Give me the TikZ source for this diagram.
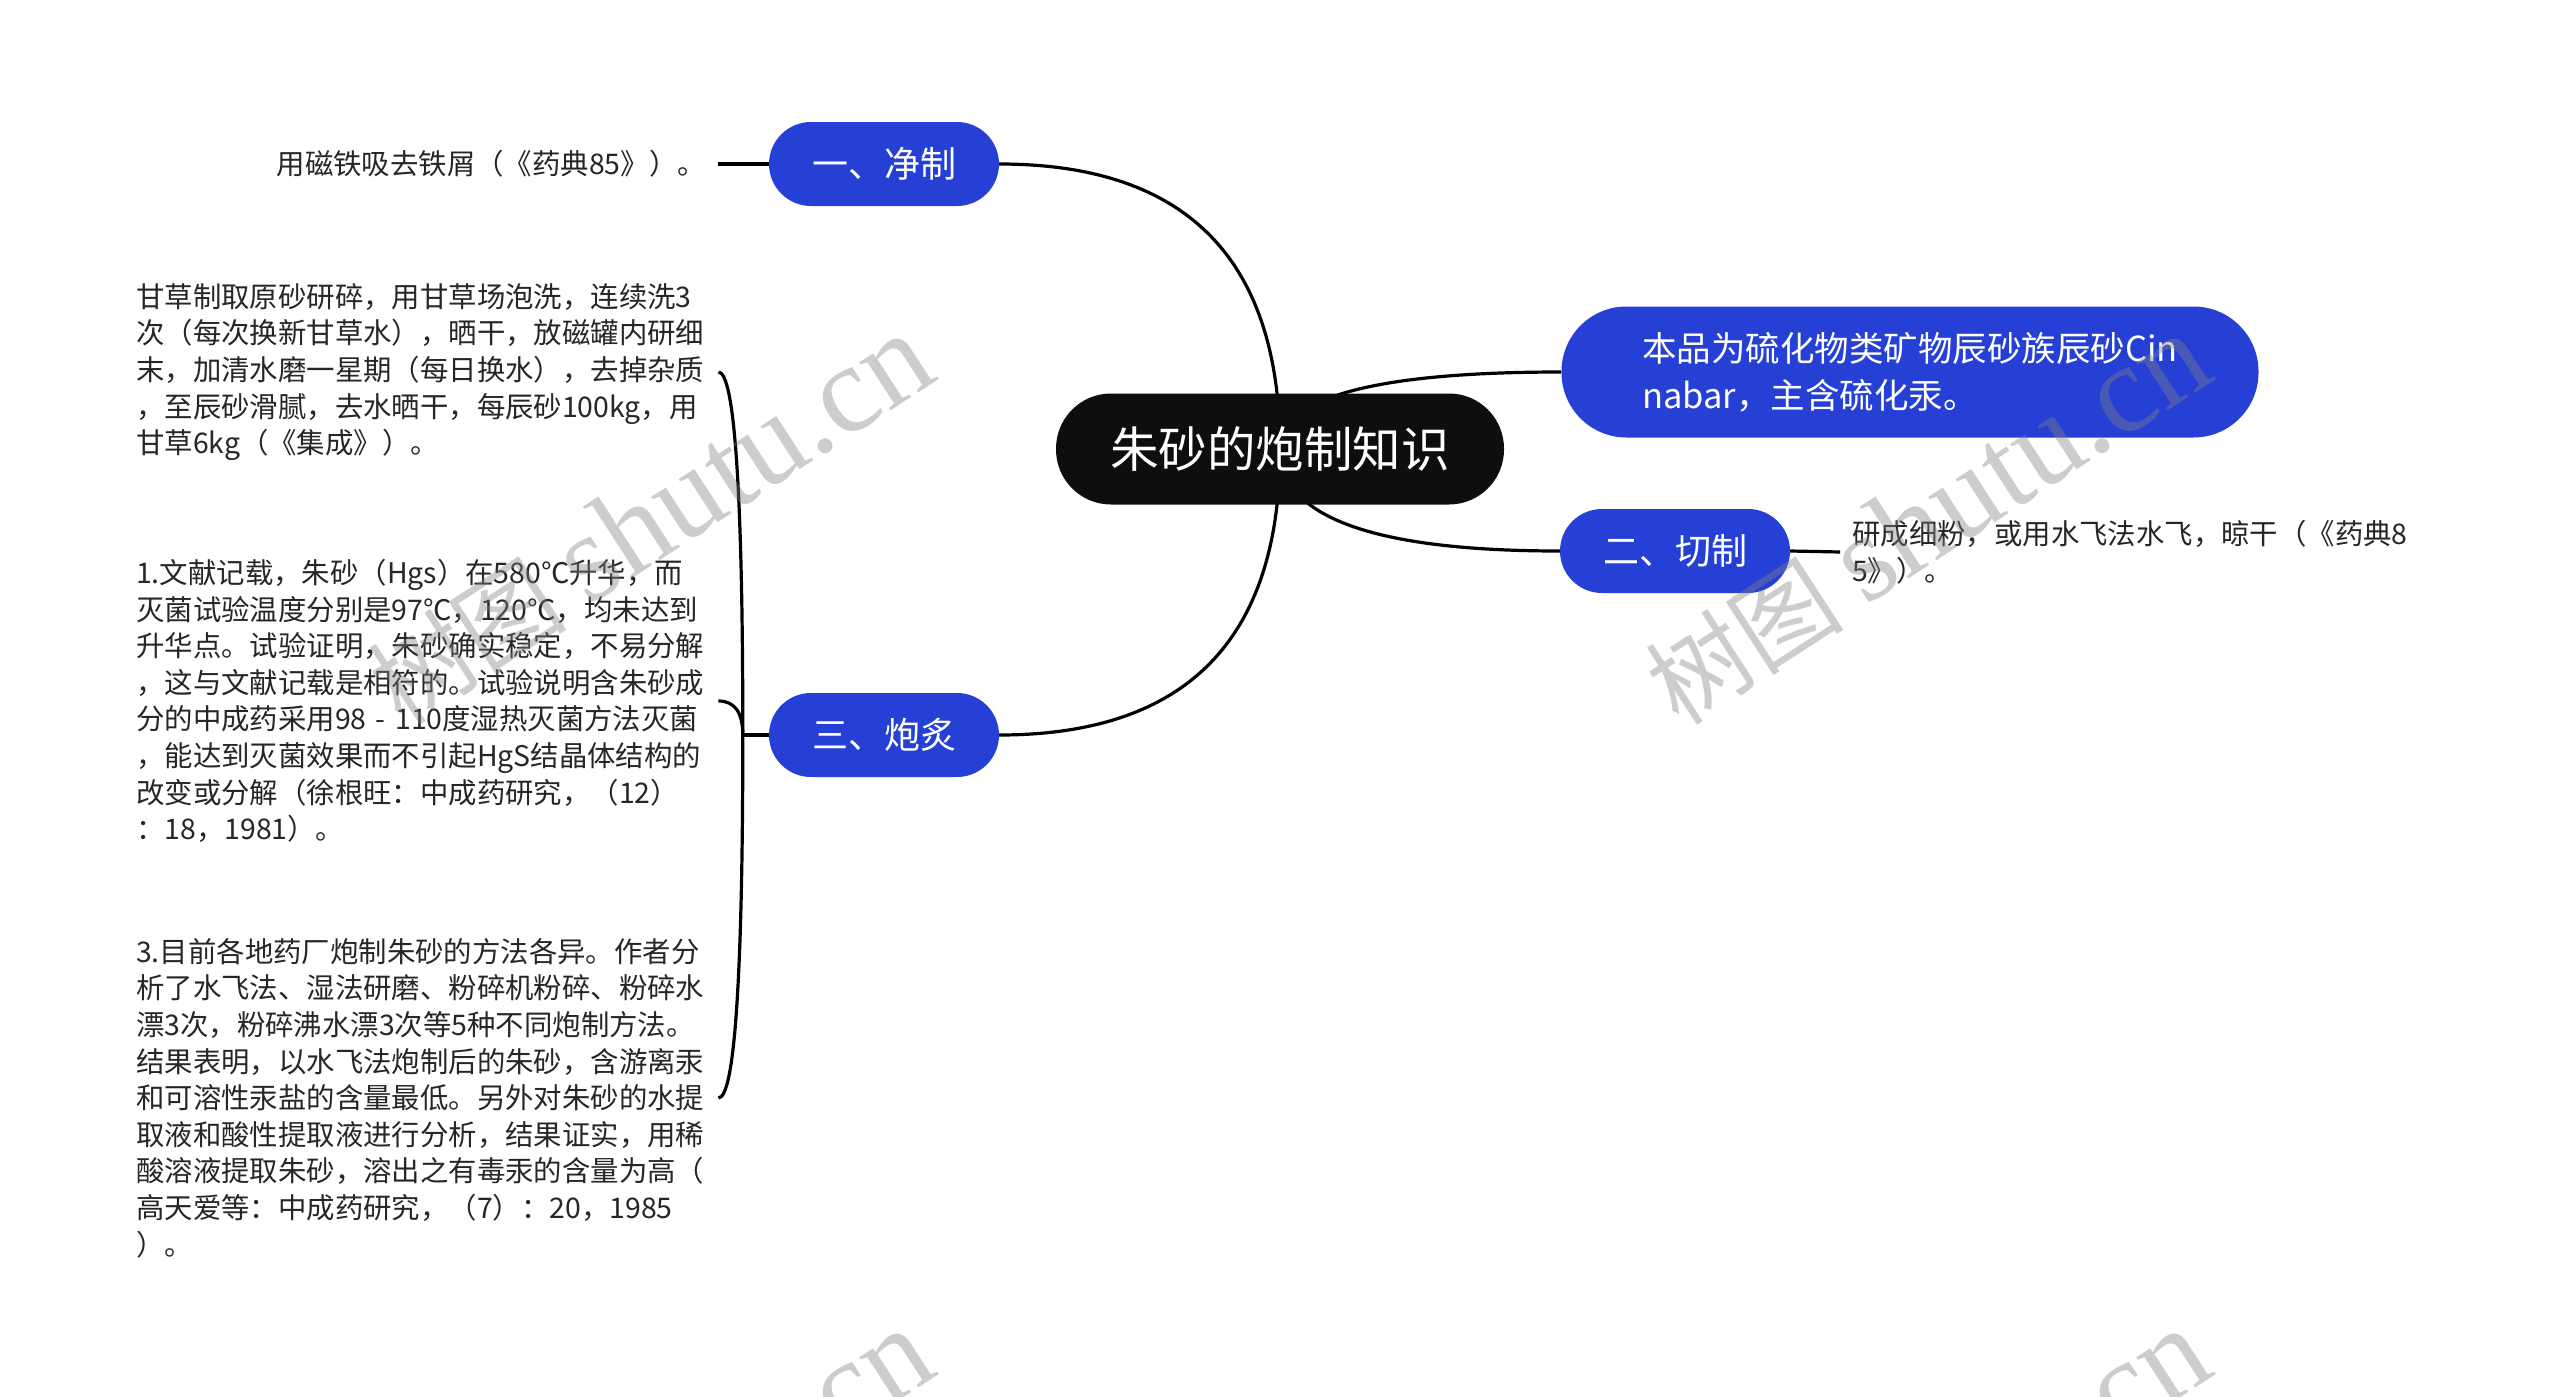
\documentclass[tikz,border=0pt]{standalone}
\usepackage{fontspec}
\setmainfont{Noto Sans CJK SC}
\newfontfamily\wmserif{Liberation Serif}
\usetikzlibrary{calc,backgrounds}
\definecolor{nodeblue}{RGB}{38,64,214}
\definecolor{rootblack}{RGB}{14,14,14}
\definecolor{wmgray}{RGB}{130,130,130}
\setlength\parindent{0pt}
\pgfdeclarelayer{edges}
\pgfsetlayers{background,edges,main}
\begin{document}
\begin{tikzpicture}[x=1pt,y=-1pt,
  rootnode/.style={fill=rootblack,text=white,rounded corners=55pt,minimum width=448pt,minimum height=111pt,inner sep=0pt,font=\fontsize{48.5}{58}\selectfont},
  topic/.style={fill=nodeblue,text=white,rounded corners=42pt,minimum width=230pt,minimum height=84pt,inner sep=0pt,font=\fontsize{36}{44}\selectfont},
  bigtopic/.style={fill=nodeblue,text=white,rounded corners=65pt,minimum width=697pt,minimum height=131pt,inner xsep=65pt,inner ysep=0pt,align=left,font=\fontsize{34.5}{47}\selectfont},
  leaf/.style={inner xsep=12pt,inner ysep=0pt,align=left,text=black!85,font=\fontsize{28.4}{36.6}\selectfont},
  block/.style={leaf,text width=570pt},
  conn/.style={draw=black,line width=3.2pt},
  wm/.style={text=wmgray,opacity=0.4,rotate=33,inner sep=0pt}
]
\begin{pgfonlayer}{background}
\fill[white] (0,0) rectangle (2560,1397);
\end{pgfonlayer}
\useasboundingbox (0,0) rectangle (2560,1397);

% nodes
\node[rootnode] (root) at (1280,449) {朱砂的炮制知识};
\node[topic] (n1) at (884,164) {一、净制};
\node[topic] (n3) at (884,735) {三、炮炙};
\node[bigtopic] (nb) at (1910,372) {本品为硫化物类矿物辰砂族辰砂Cin\\nabar，主含硫化汞。};
\node[topic] (n2) at (1675,551) {二、切制};

\node[leaf,anchor=east] (t1) at (718,164) {用磁铁吸去铁屑（《药典85》）。};
\node[leaf,anchor=west] (t2) at (1840,552) {研成细粉，或用水飞法水飞，晾干（《药典8\\5》）。};

\node[block,anchor=west] (b1) at (124,372) {甘草制取原砂研碎，用甘草场泡洗，连续洗3\\次（每次换新甘草水），晒干，放磁罐内研细\\末，加清水磨一星期（每日换水），去掉杂质\\，至辰砂滑腻，去水晒干，每辰砂100kg，用\\甘草6kg（《集成》）。};
\node[block,anchor=west] (b2) at (124,701) {1.文献记载，朱砂（Hgs）在580℃升华，而\\灭菌试验温度分别是97℃，120℃，均未达到\\升华点。试验证明，朱砂确实稳定，不易分解\\，这与文献记载是相符的。试验说明含朱砂成\\分的中成药采用98~-~110度湿热灭菌方法灭菌\\，能达到灭菌效果而不引起HgS结晶体结构的\\改变或分解（徐根旺：中成药研究，（12）\\：18，1981）。};
\node[block,anchor=west] (b3) at (124,1098) {3.目前各地药厂炮制朱砂的方法各异。作者分\\析了水飞法、湿法研磨、粉碎机粉碎、粉碎水\\漂3次，粉碎沸水漂3次等5种不同炮制方法。\\结果表明，以水飞法炮制后的朱砂，含游离汞\\和可溶性汞盐的含量最低。另外对朱砂的水提\\取液和酸性提取液进行分析，结果证实，用稀\\酸溶液提取朱砂，溶出之有毒汞的含量为高（\\高天爱等：中成药研究，（7）：20，1985\\）。};

\coordinate (spine) at ($(n3.west)+(-26,0)$);

% connectors
\begin{pgfonlayer}{edges}
\foreach \t/\a in {n1/east,n3/east,nb/west,n2/west}{
  \draw[conn] (root.center) .. controls ($(root.center)!2/3!(root.center |- \t.\a)$) and ($(\t.\a)!2/3!(root.center |- \t.\a)$) .. (\t.\a);
}
\draw[conn] (n1.west) -- (t1.east);
\draw[conn] (n2.east) -- (t2.west);
\draw[conn] (n3.west) -- (spine);
\foreach \b in {b1,b2,b3}{
  \draw[conn] (spine) .. controls ($(spine)!2/3!(spine |- \b.east)$) and ($(\b.east)!2/3!(spine |- \b.east)$) .. (\b.east);
}
\end{pgfonlayer}

% watermarks
\begin{scope}
\clip (0,0) rectangle (2560,1397);
\foreach \cx/\cy [count=\i] in {650/520,1927/520,650/1515,1927/1515}{
  \node[wm] (wm\i) at (\cx,\cy) {\fontsize{100}{100}\selectfont 树图 {\wmserif\fontsize{125}{125}\selectfont shutu.cn}};
}
\end{scope}
\end{tikzpicture}
\end{document}
